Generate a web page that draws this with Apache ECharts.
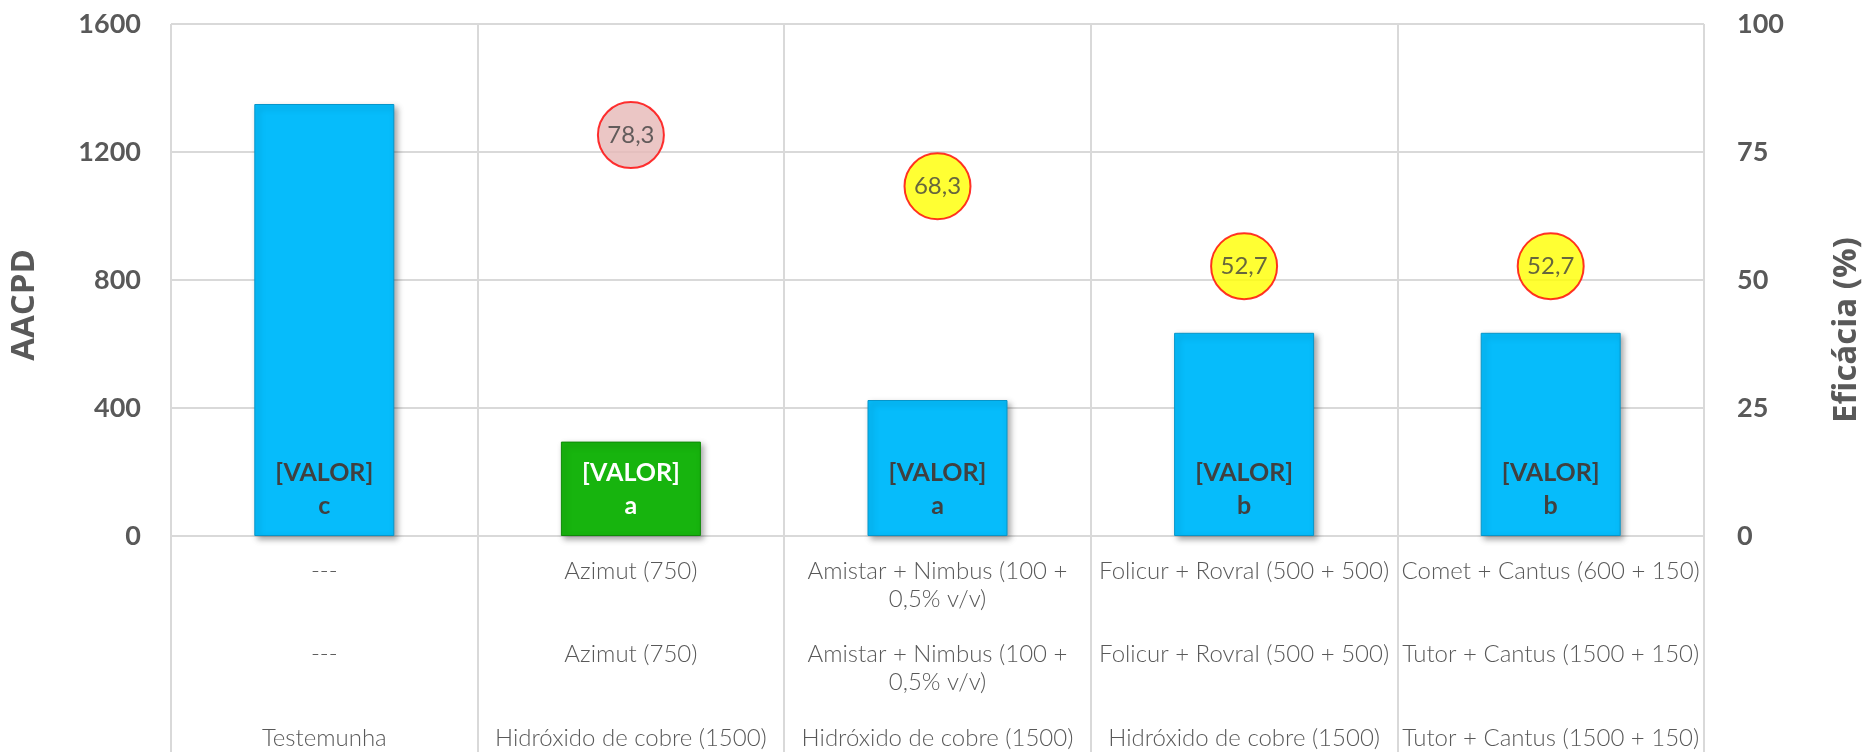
<!DOCTYPE html>
<html>
<head>
<meta charset="utf-8">
<script src="https://cdn.jsdelivr.net/npm/echarts@6/dist/echarts.min.js"></script>
<style>
html,body{margin:0;padding:0;background:#fff;}
#chart{width:1871px;height:752px;}
</style>
</head>
<body>
<div id="chart"></div>
<script>
// ---- data ----
const labelsRow1 = ['---', 'Azimut (750)', 'Amistar + Nimbus (100 + 0,5% v/v)', 'Folicur + Rovral (500 + 500)', 'Comet + Cantus (600 + 150)'];
const labelsRow2 = ['---', 'Azimut (750)', 'Amistar + Nimbus (100 + 0,5% v/v)', 'Folicur + Rovral (500 + 500)', 'Tutor + Cantus (1500 + 150)'];
const labelsRow3 = ['Testemunha', 'Hidróxido de cobre (1500)', 'Hidróxido de cobre (1500)', 'Hidróxido de cobre (1500)', 'Tutor + Cantus (1500 + 150)'];
const aacpd = [1350, 295, 425, 635, 635];
const letters = ['c', 'a', 'a', 'b', 'b'];
const eficacia = [null, 78.3, 68.3, 52.7, 52.7];
const leftAxis = { min: 0, max: 1600, interval: 400, name: 'AACPD' };
const rightAxis = { min: 0, max: 100, interval: 25, name: 'Eficácia (%)' };
const barLabelText = '[VALOR]';

// ---- styles ----
const FONT = 'Lato, "Open Sans", sans-serif';
const NAMEFONT = '"Open Sans", Lato, sans-serif';
const GRID = '#D9D9D9';
const TXT = '#595959';
const blue = '#06BCFB', green = '#17B40E';
const highlightIndex = 1;
const CAT_SIZE = 24, CAT_WEIGHT = 300, CAT_WRAP = 304;

// word wrap on spaces only (keeps "0,5%" together)
const measureCtx = document.createElement('canvas').getContext('2d');
function wrapLabel(text) {
  measureCtx.font = CAT_WEIGHT + ' ' + CAT_SIZE + 'px ' + FONT;
  const words = text.split(' ');
  const lines = [];
  let cur = '';
  words.forEach(w => {
    const test = cur ? cur + ' ' + w : w;
    if (cur && measureCtx.measureText(test).width > CAT_WRAP) {
      lines.push(cur + ' ');
      cur = w;
    } else {
      cur = test;
    }
  });
  lines.push(cur);
  return lines.map(s => s.trim()).join('\n');
}

const chart = echarts.init(document.getElementById('chart'), null, { renderer: 'canvas' });

const catLabel = {
  fontFamily: FONT, fontSize: CAT_SIZE, fontWeight: CAT_WEIGHT, color: TXT, lineHeight: 28,
  align: 'center', verticalAlign: 'top', interval: 0, margin: 21,
  formatter: v => wrapLabel(v)
};

function extraAxis(data, offset) {
  return {
    type: 'category', data: data, position: 'bottom', offset: offset, gridIndex: 0,
    axisLine: { show: false }, axisTick: { show: false }, splitLine: { show: false },
    axisLabel: catLabel
  };
}

const option = {
  backgroundColor: '#fff',
  animation: false,
  grid: { left: 167, right: 162, top: 24, bottom: 215, containLabel: false },
  xAxis: [
    {
      type: 'category', data: labelsRow1, position: 'bottom',
      axisLine: { show: true, lineStyle: { color: GRID, width: 2 } },
      axisTick: { show: true, length: 222, lineStyle: { color: GRID, width: 2 } },
      splitLine: { show: true, lineStyle: { color: GRID, width: 2 } },
      axisLabel: catLabel
    },
    extraAxis(labelsRow2, 83),
    extraAxis(labelsRow3, 167)
  ],
  yAxis: [
    {
      type: 'value', min: leftAxis.min, max: leftAxis.max, interval: leftAxis.interval,
      name: leftAxis.name, nameLocation: 'middle', nameGap: 130, nameRotate: 90,
      nameTextStyle: { fontFamily: NAMEFONT, fontSize: 33, fontWeight: 'bold', color: TXT, padding: [0, 50, 0, 0] },
      axisLine: { show: false }, axisTick: { show: false },
      axisLabel: { fontFamily: FONT, fontSize: 27, fontWeight: 'bold', color: TXT, margin: 30, formatter: v => String(v) },
      splitLine: { show: true, lineStyle: { color: GRID, width: 2 } }
    },
    {
      type: 'value', min: rightAxis.min, max: rightAxis.max, interval: rightAxis.interval,
      position: 'right',
      name: rightAxis.name, nameLocation: 'middle', nameGap: 126, nameRotate: 90,
      nameTextStyle: { fontFamily: NAMEFONT, fontSize: 33, fontWeight: 'bold', color: TXT, padding: [0, 100, 0, 0] },
      axisLine: { show: false }, axisTick: { show: false },
      axisLabel: { fontFamily: FONT, fontSize: 27, fontWeight: 'bold', color: TXT, margin: 33, formatter: v => String(v) },
      splitLine: { show: false }
    }
  ],
  series: [
    {
      type: 'bar', xAxisIndex: 0, yAxisIndex: 0, barWidth: 140,
      data: aacpd.map((v, i) => ({
        value: v,
        itemStyle: {
          color: i === highlightIndex ? green : blue,
          borderColor: i === highlightIndex ? '#0F8A08' : '#0795C9',
          borderWidth: 1,
          shadowColor: 'rgba(0,0,0,0.35)', shadowBlur: 6, shadowOffsetX: 3, shadowOffsetY: 3
        },
        label: { color: i === highlightIndex ? '#FFFFFF' : '#404040' }
      })),
      label: {
        show: true, position: 'insideBottom', distance: 14,
        fontFamily: FONT, fontSize: 25, fontWeight: 'bold', lineHeight: 33,
        formatter: p => barLabelText + '\n' + letters[p.dataIndex]
      }
    },
    {
      type: 'scatter', xAxisIndex: 0, yAxisIndex: 1, symbol: 'circle', symbolSize: 66,
      data: eficacia.map((v, i) => ({
        value: v,
        itemStyle: { color: i === highlightIndex ? '#E6B8B7' : '#FFFF00', borderColor: '#FF0000', borderWidth: 2 }
      })),
      label: {
        show: true, position: 'inside', fontFamily: FONT, fontSize: 24, color: '#404040',
        formatter: p => p.value == null ? '' : p.value.toFixed(1).replace('.', ',')
      },
      z: 5
    }
  ]
};
chart.setOption(option);
</script>
</body>
</html>
